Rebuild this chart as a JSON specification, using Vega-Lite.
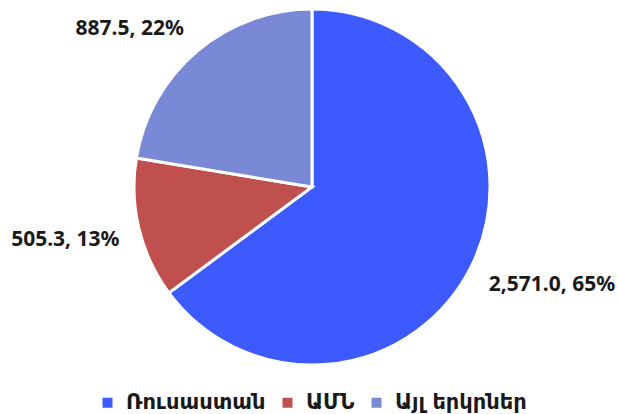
{
  "$schema": "https://vega.github.io/schema/vega-lite/v6.json",
  "width": 624,
  "height": 374,
  "padding": {"left": 0, "top": 0, "right": 0, "bottom": 40},
  "autosize": {"type": "none"},
  "background": "white",
  "config": {"view": {"stroke": null}, "font": "Noto Sans"},
  "data": {"values": [
    {"country": "Ռուսաստան", "value": 2571.0, "label": "2,571.0, 65%", "slot": "a"},
    {"country": "ԱՄՆ", "value": 505.3, "label": "505.3, 13%", "slot": "b"},
    {"country": "Այլ երկրներ", "value": 887.5, "label": "887.5, 22%", "slot": "c"}
  ]},
  "encoding": {
    "theta": {"field": "value", "type": "quantitative", "stack": true},
    "order": {"field": "order", "type": "quantitative"}
  },
  "layer": [
    {
      "mark": {"type": "arc", "radius": 178, "stroke": "white", "strokeWidth": 3},
      "encoding": {
        "color": {
          "field": "country", "type": "nominal",
          "sort": ["Ռուսաստան", "ԱՄՆ", "Այլ երկրներ"],
          "scale": {"domain": ["Ռուսաստան", "ԱՄՆ", "Այլ երկրներ"], "range": ["#3D5AFE", "#C0504D", "#7A89D6"]},
          "legend": {
            "title": null, "orient": "none", "direction": "horizontal",
            "legendX": 97, "legendY": 392,
            "symbolType": "square", "symbolSize": 100, "symbolStrokeWidth": 0,
            "labelFontSize": 21, "labelFontWeight": "bold", "labelColor": "#1a1a1a", "labelFont": "DejaVu Sans",
            "columnPadding": 11, "labelOffset": 8, "labelLimit": 300
          }
        }
      }
    },
    {
      "mark": {"type": "text", "radius": 198, "dy": 9, "align": "left", "baseline": "middle", "fontSize": 21, "fontWeight": "bold", "color": "#1a1a1a"},
      "encoding": {
        "text": {"condition": {"test": "datum.slot === 'a'", "field": "label"}, "value": ""}
      }
    },
    {
      "mark": {"type": "text", "radius": 198, "dy": 7, "align": "right", "baseline": "middle", "fontSize": 21, "fontWeight": "bold", "color": "#1a1a1a"},
      "encoding": {
        "text": {"condition": {"test": "datum.slot === 'b'", "field": "label"}, "value": ""}
      }
    },
    {
      "mark": {"type": "text", "radius": 198, "dy": -7, "align": "right", "baseline": "middle", "fontSize": 21, "fontWeight": "bold", "color": "#1a1a1a"},
      "encoding": {
        "text": {"condition": {"test": "datum.slot === 'c'", "field": "label"}, "value": ""}
      }
    }
  ]
}
